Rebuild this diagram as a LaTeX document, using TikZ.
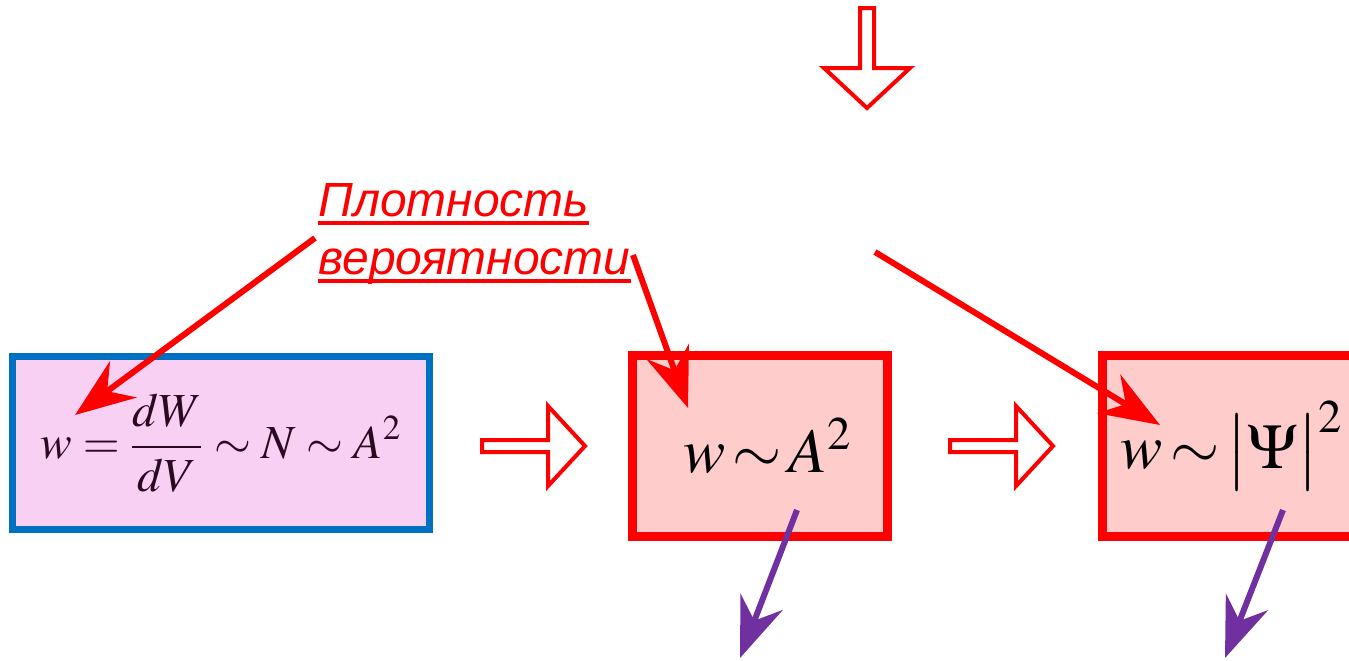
\documentclass[tikz,border=0pt]{standalone}
\usepackage{mathptmx}
\usepackage{fontspec}
\usetikzlibrary{arrows.meta}
\newfontfamily\labelfont{Liberation Sans}
\definecolor{boxblue}{HTML}{0070C0}
\definecolor{boxpink}{HTML}{F8D0F4}
\definecolor{boxrose}{HTML}{FFCCCC}
\definecolor{arrowpurple}{HTML}{7030A0}
\definecolor{inkdark}{HTML}{2A0A20}
% underlined word
\newcommand{\ulword}[1]{\setbox0\hbox{#1}\rlap{\rule[-5pt]{\wd0}{2.6pt}}\box0}

\begin{document}
\begin{tikzpicture}[x=0.02cm, y=-0.02cm,
    formula/.style={font=\fontsize{27}{32}\selectfont},
    bigformula/.style={font=\fontsize{36}{40}\selectfont},
    pointer/.style={-{Stealth[length=1.2cm,width=0.9cm,inset=0.4cm]}, line width=0.12cm},
    hollow/.style={draw=red, line width=0.08cm, fill=white, line join=miter}]
    \clip (0,0) rectangle (1349,660);
    \fill[white] (0,0) rectangle (1349,660);

    % Boxes
    \node[draw=boxblue, fill=boxpink, line width=0.14cm, minimum width=8.36cm, minimum height=3.48cm,
          formula, text=inkdark] (classic) at (221,443) {$w=\displaystyle\frac{dW}{dV}\sim N\sim A^2$};
    \node[draw=red, fill=boxrose, line width=0.18cm, minimum width=5.12cm, minimum height=3.64cm,
          bigformula] (wave) at (760,446) {\hspace{0.3cm}$w\!\sim\! A^2$};
    \node[draw=red, fill=boxrose, line width=0.18cm, minimum width=5.2cm, minimum height=3.64cm,
          bigformula] (quantum) at (1232,446) {\raisebox{-0.08cm}{$w\!\sim\!\bigl|\Psi\bigr|^2$}};

    % Hollow arrows
    \draw[hollow] (860,8) -- (874,8) -- (874,68) -- (910,68) -- (867,108) -- (824,68) -- (860,68) -- cycle;
    \foreach \dx in {0,468}
        \draw[hollow, xshift=\dx*0.02cm] (482,440) -- (548,440) -- (548,406) -- (585,446)
            -- (548,486) -- (548,452) -- (482,452) -- cycle;

    % Label
    \node[anchor=north west, text=red, align=left, inner sep=0pt,
          font=\labelfont\itshape\fontsize{27.3}{33}\selectfont] (density) at (318,183)
          {\ulword{Плотность}\\\ulword{вероятности}};

    % Pointers
    \coordinate (dens-a) at (315,238);
    \coordinate (dens-b) at (633,255);
    \coordinate (top-c) at (875,252);
    \coordinate (w1) at (75,415);
    \coordinate (w2) at (688,408);
    \coordinate (w3) at (1160,425);
    \draw[pointer, red] (dens-a) -- (w1);
    \draw[pointer, red] (dens-b) -- (w2);
    \draw[pointer, red] (top-c) -- (w3);

    \coordinate (p2) at (797,510);
    \coordinate (q2) at (740,658);
    \coordinate (p3) at (1283,510);
    \coordinate (q3) at (1225,658);
    \draw[pointer, arrowpurple] (p2) -- (q2);
    \draw[pointer, arrowpurple] (p3) -- (q3);
\end{tikzpicture}
\end{document}
